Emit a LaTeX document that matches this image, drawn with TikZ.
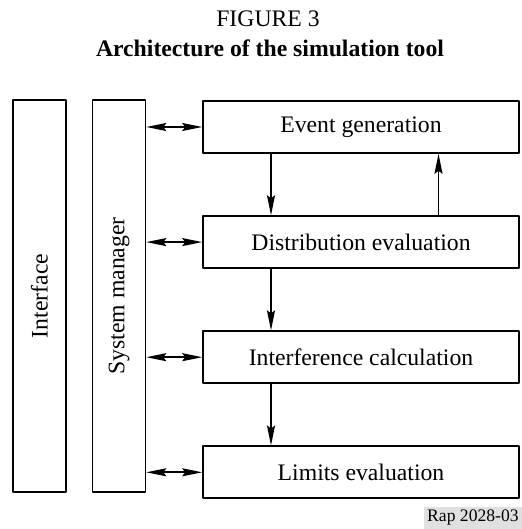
\documentclass[tikz,border=0pt]{standalone}
\usepackage{fontspec}
\setmainfont{Liberation Serif}
\usetikzlibrary{arrows.meta,positioning}
\begin{document}
\begin{tikzpicture}[x=0.5pt, y=0.5pt, line join=round, >={Stealth[length=10pt,width=4pt,inset=1.5pt]}, font=\fontsize{11.85}{14}\selectfont,
	block/.style={draw, line width=0.8pt, minimum width=158pt, minimum height=26pt, inner sep=0pt},
	column/.style={draw, line width=0.8pt, rotate=90, minimum width=196pt, minimum height=26.5pt, inner sep=0pt},
	link/.style={<->, line width=0.8pt},
	flow/.style={->, line width=0.8pt}]
	\useasboundingbox (0,0) rectangle (522,529);
	\node (fig) at (268,510) {FIGURE 3};
	\node[font=\fontsize{11.85}{14}\selectfont\bfseries] (title) at (270,481) {Architecture of the simulation tool};
	\node[column] (iface) at (39.5,233) {Interface};
	\node[column] (sysman) at (119,233) {System manager};
	\node[block] (event) at (361,402) {Event generation};
	\node[block, below=30.75pt of event] (distr) {Distribution evaluation};
	\node[block, below=30.75pt of distr] (interf) {Interference calculation};
	\node[block, below=30.75pt of interf] (limits) {Limits evaluation};
	\foreach \b in {event,distr,interf,limits}
		\draw[link] (\b.west -| sysman.south) -- (\b.west);
	\draw[flow] ([xshift=-45pt]event.south) -- ([xshift=-45pt]distr.north);
	\draw[flow] ([xshift=38.75pt]distr.north) -- ([xshift=38.75pt]event.south);
	\draw[flow] ([xshift=-45pt]distr.south) -- ([xshift=-45pt]interf.north);
	\draw[flow] ([xshift=-45pt]interf.south) -- ([xshift=-45pt]limits.north);
	\node[fill=black!12, inner sep=1.5pt, anchor=south east, font=\fontsize{8.8}{10}\selectfont] (rap) at (522,0) {Rap 2028-03};
\end{tikzpicture}
\end{document}
